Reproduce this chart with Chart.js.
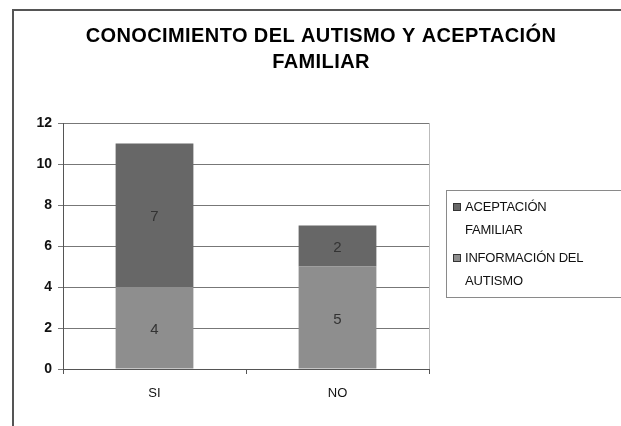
<!DOCTYPE html>
<html>
<head>
<meta charset="utf-8">
<script src="https://cdn.jsdelivr.net/npm/chart.js@4.4.1/dist/chart.umd.min.js"></script>
<style>
  html, body { margin: 0; padding: 0; background: #fff; }
  #wrap { position: relative; width: 621px; height: 426px; overflow: hidden; }
  #frame { position: absolute; left: 12px; top: 9px; width: 700px; height: 500px;
           border-left: 2px solid #555; border-top: 2px solid #555; }
  canvas { position: absolute; left: 0; top: 0; }
  #legend { position: absolute; left: 446px; top: 190px; width: 180px; height: 106px;
            border: 1px solid #8a8a8a; font-family: "Liberation Sans", Arial, sans-serif;
            font-size: 13px; color: #111; }
  .item { position: absolute; left: 6px; line-height: 23px; }
  .sw { position: absolute; left: 0; top: 8px; width: 8px; height: 8px; border: 1px solid #333; box-sizing: border-box; }
  .txt { margin-left: 12px; letter-spacing: -0.2px; }
</style>
</head>
<body>
<div id="wrap">
  <div id="frame"></div>
  <canvas id="c" width="621" height="426"></canvas>
  <div id="legend"></div>
</div>
<script>
const categories = ["SI", "NO"];
const informacionAutismo = [4, 5];
const aceptacionFamiliar = [7, 2];
const yTicks = [0, 2, 4, 6, 8, 10, 12];
const titleLines = ["CONOCIMIENTO DEL AUTISMO Y ACEPTACIÓN", "FAMILIAR"];
const legendLines = {
  top: ["ACEPTACIÓN", "FAMILIAR"],
  bottom: ["INFORMACIÓN DEL", "AUTISMO"]
};

const colBottom = "#8e8e8e";
const colTop = "#676767";

const valueLabels = {
  id: "valueLabels",
  afterDatasetsDraw(chart) {
    const ctx = chart.ctx;
    ctx.save();
    ctx.font = "15px 'Liberation Sans', Arial, sans-serif";
    ctx.fillStyle = "#333";
    ctx.textAlign = "center";
    ctx.textBaseline = "middle";
    chart.data.datasets.forEach((ds, di) => {
      const meta = chart.getDatasetMeta(di);
      meta.data.forEach((bar, i) => {
        const v = ds.data[i];
        const y = (bar.y + bar.base) / 2;
        ctx.fillText(String(v), bar.x, y + 2);
      });
    });
    ctx.restore();
  }
};

const titlePlugin = {
  id: "titlePlugin",
  afterDraw(chart) {
    const ctx = chart.ctx;
    ctx.save();
    ctx.font = "bold 20px 'Liberation Sans', Arial, sans-serif";
    ctx.letterSpacing = "0.4px";
    ctx.fillStyle = "#000";
    ctx.textAlign = "center";
    ctx.textBaseline = "middle";
    ctx.fillText(titleLines[0], 321, 36);
    ctx.fillText(titleLines[1], 321, 62);
    ctx.restore();
  }
};

const plotBorder = {
  id: "plotBorder",
  beforeDatasetsDraw(chart) {
    const a = chart.chartArea, ctx = chart.ctx;
    ctx.save();
    ctx.strokeStyle = "#bbb";
    ctx.lineWidth = 1;
    ctx.beginPath();
    ctx.moveTo(a.right + 0.5, a.top);
    ctx.lineTo(a.right + 0.5, a.bottom);
    ctx.stroke();
    ctx.restore();
  }
};

new Chart(document.getElementById("c"), {
  type: "bar",
  data: {
    labels: categories,
    datasets: [
      { label: legendLines.bottom.join(" "), data: informacionAutismo, backgroundColor: colBottom,
        borderWidth: 0, barPercentage: 0.425, categoryPercentage: 1 },
      { label: legendLines.top.join(" "), data: aceptacionFamiliar, backgroundColor: colTop,
        borderWidth: 0, barPercentage: 0.425, categoryPercentage: 1 }
    ]
  },
  options: {
    responsive: false,
    animation: false,
    layout: { padding: { left: 0, right: 192, top: 123, bottom: 0 } },
    plugins: {
      legend: { display: false },
      tooltip: { enabled: false },
      title: { display: false }
    },
    scales: {
      x: {
        stacked: true,
        offset: true,
        grid: { display: true, drawOnChartArea: false, offset: true, color: "#555", tickLength: 5 },
        border: { display: true, color: "#555", width: 1 },
        ticks: { color: "#111", padding: 12, font: { family: "'Liberation Sans', Arial, sans-serif", size: 13 } },
        afterFit(s) { s.height = 57; }
      },
      y: {
        stacked: true,
        min: 0,
        max: 12,
        afterBuildTicks(s) { s.ticks = yTicks.map(v => ({ value: v })); },
        grid: { color: "#777", tickLength: 5 },
        border: { display: true, color: "#555", width: 1 },
        ticks: { color: "#111", padding: 6, font: { family: "'Liberation Sans', Arial, sans-serif", size: 14, weight: "bold" } },
        afterFit(s) { s.width = 63; }
      }
    }
  },
  plugins: [valueLabels, plotBorder, titlePlugin]
});

const lg = document.getElementById("legend");
[[legendLines.top, colTop, 4], [legendLines.bottom, colBottom, 55]].forEach(([lines, col, top]) => {
  const it = document.createElement("div");
  it.className = "item";
  it.style.top = top + "px";
  it.innerHTML = '<div class="sw" style="background:' + col + '"></div>' +
    '<div class="txt">' + lines[0] + '</div><div class="txt">' + lines[1] + '</div>';
  lg.appendChild(it);
});
</script>
</body>
</html>
